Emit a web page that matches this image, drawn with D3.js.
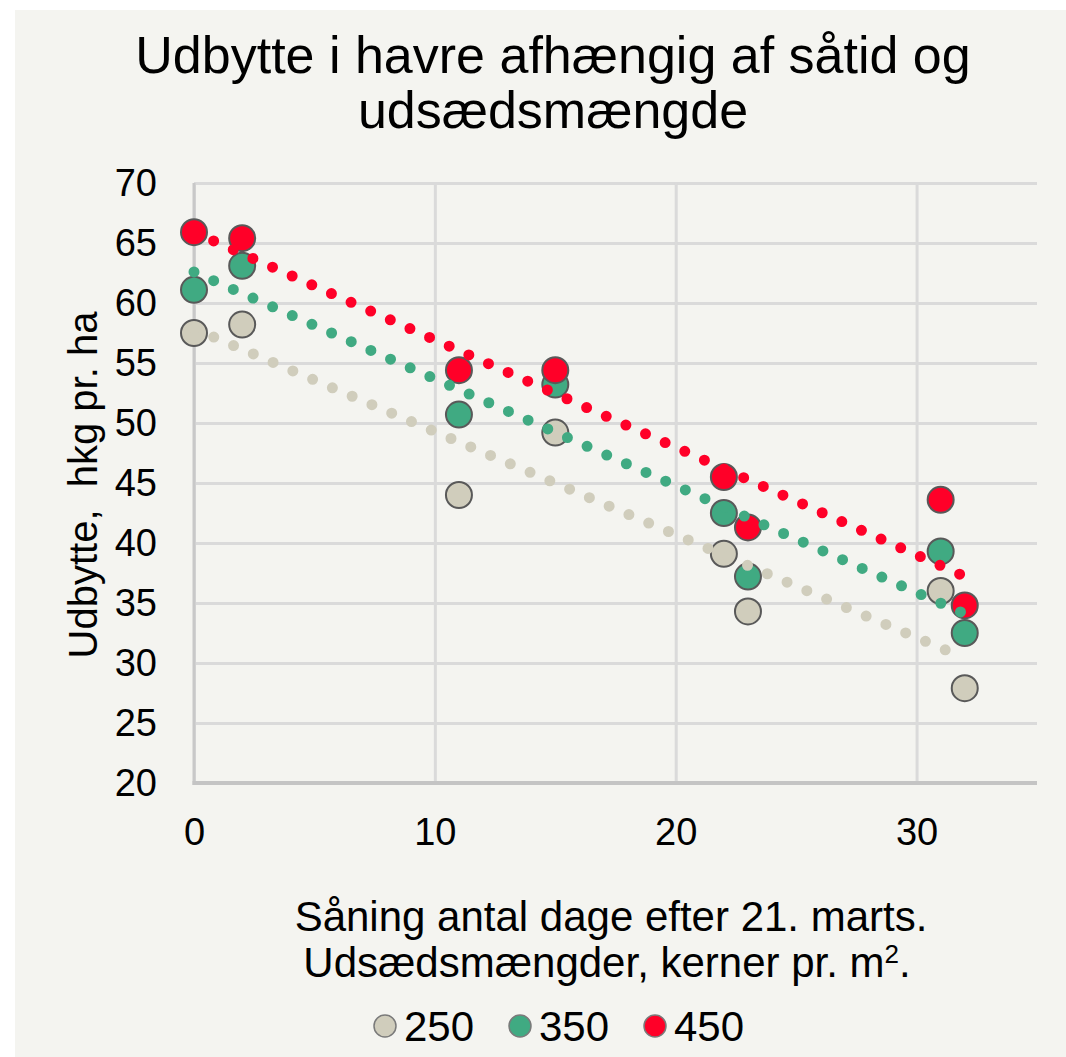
<!DOCTYPE html>
<html>
<head>
<meta charset="utf-8">
<script src="https://cdn.jsdelivr.net/npm/d3@7"></script>
<style>
  html, body { margin: 0; padding: 0; background: #ffffff; }
  svg { display: block; font-family: Arial, 'Liberation Sans', sans-serif; }
</style>
</head>
<body>
<svg id="chart" width="1066" height="1057"></svg>
<script>
// Sowing day (days after 21 March) and yield, hkg per ha, per seed rate.
var days = [0, 2, 11, 15, 22, 23, 31, 32];
var seedRates = ['250', '350', '450'];
var yield250 = [57.5, 58.2, 44.0, 49.2, 39.1, 34.3, 36.0, 27.9];
var yield350 = [61.1, 63.1, 50.7, 53.2, 42.5, 37.2, 39.3, 32.5];
var yield450 = [65.9, 65.4, 54.4, 54.4, 45.5, 41.3, 43.6, 34.8];
var xTicks = [0, 10, 20, 30];
var yTicks = [20, 25, 30, 35, 40, 45, 50, 55, 60, 65, 70];
var seriesColors = ['#d0cdbc', '#40aa82', '#ff0028'];

var series = [yield250, yield350, yield450].map(function (values, i) {
  return {
    id: seedRates[i],
    color: seriesColors[i],
    points: days.map(function (d, j) { return { x: d, y: values[j] }; })
  };
});

var svg = d3.select('#chart');
var plot = { left: 194, right: 1037, top: 183, bottom: 783 };

var x = d3.scaleLinear().domain([0, 35]).range([plot.left, plot.right]);
var y = d3.scaleLinear().domain([20, 70]).range([plot.bottom, plot.top]);

// panel background, white strip on top and left like the source
svg.append('rect')
  .attr('x', 15).attr('y', 10)
  .attr('width', 1066 - 15).attr('height', 1057 - 10)
  .attr('fill', '#f4f4f0');

svg.append('text')
  .attr('text-anchor', 'middle')
  .attr('font-size', 52)
  .attr('fill', '#000')
  .selectAll('tspan')
  .data(['Udbytte i havre afhængig af såtid og', 'udsædsmængde'])
  .enter()
  .append('tspan')
  .attr('x', 553)
  .attr('y', function (d, i) { return 73 + i * 55; })
  .text(function (d) { return d; });

// y grid + labels
var yAxis = svg.append('g')
  .attr('transform', 'translate(' + plot.left + ',0)')
  .call(d3.axisLeft(y).tickValues(yTicks).tickSize(-(plot.right - plot.left)).tickPadding(37));
yAxis.select('.domain').remove();
yAxis.selectAll('line').attr('stroke', '#dadada').attr('stroke-width', 3);
yAxis.selectAll('text').attr('font-size', 38).attr('font-family', null).attr('fill', '#000');

// x grid + labels
var xAxis = svg.append('g')
  .attr('transform', 'translate(0,' + plot.bottom + ')')
  .call(d3.axisBottom(x).tickValues(xTicks).tickSize(-(plot.bottom - plot.top)).tickPadding(35));
xAxis.select('.domain').remove();
xAxis.selectAll('line').attr('stroke', '#dadada').attr('stroke-width', 3);
xAxis.selectAll('text').attr('font-size', 38).attr('font-family', null).attr('fill', '#000');

// axis lines
svg.append('line')
  .attr('x1', plot.left).attr('x2', plot.left)
  .attr('y1', plot.top).attr('y2', plot.bottom + 2)
  .attr('stroke', '#c8c8c8').attr('stroke-width', 3);
svg.append('line')
  .attr('x1', plot.left - 1.5).attr('x2', plot.right)
  .attr('y1', plot.bottom).attr('y2', plot.bottom)
  .attr('stroke', '#c4c4c4').attr('stroke-width', 4);

// markers
var markerGroups = svg.append('g').selectAll('g')
  .data(series)
  .enter()
  .append('g');
markerGroups.selectAll('circle')
  .data(function (s) { return s.points.map(function (p) { return { x: p.x, y: p.y, color: s.color }; }); })
  .enter()
  .append('circle')
  .attr('cx', function (p) { return x(p.x); })
  .attr('cy', function (p) { return y(p.y); })
  .attr('r', 13)
  .attr('fill', function (p) { return p.color; })
  .attr('stroke', '#595959')
  .attr('stroke-width', 2);

// linear trendlines, dotted, on top of the markers
function fitLine(points) {
  var mx = d3.mean(points, function (p) { return p.x; });
  var my = d3.mean(points, function (p) { return p.y; });
  var sxy = d3.sum(points, function (p) { return (p.x - mx) * (p.y - my); });
  var sxx = d3.sum(points, function (p) { return (p.x - mx) * (p.x - mx); });
  var slope = sxy / sxx;
  return function (v) { return my + slope * (v - mx); };
}

var xExtent = d3.extent(days);
var trend = d3.line()
  .x(function (d) { return x(d[0]); })
  .y(function (d) { return y(d[1]); });

svg.append('g').selectAll('path')
  .data(series)
  .enter()
  .append('path')
  .attr('d', function (s) {
    var f = fitLine(s.points);
    return trend(xExtent.map(function (v) { return [v, f(v)]; }));
  })
  .attr('fill', 'none')
  .attr('stroke', function (s) { return s.color; })
  .attr('stroke-width', 11)
  .attr('stroke-linecap', 'round')
  .attr('stroke-dasharray', '0 21.5');

// x axis title
var xTitle = svg.append('text')
  .attr('text-anchor', 'middle')
  .attr('font-size', 42)
  .attr('fill', '#000');
xTitle.append('tspan')
  .attr('x', 611).attr('y', 931)
  .text('Såning antal dage efter 21. marts.');
var line2 = xTitle.append('tspan')
  .attr('x', 607).attr('y', 977)
  .text('Udsædsmængder, kerner pr. m');
line2.append('tspan')
  .attr('font-size', 26)
  .attr('dy', -14)
  .text('2');
line2.append('tspan')
  .attr('dy', 14)
  .text('.');

// y axis title
svg.append('text')
  .attr('transform', 'translate(97,485) rotate(-90)')
  .attr('text-anchor', 'middle')
  .attr('font-size', 40)
  .attr('fill', '#000')
  .attr('xml:space', 'preserve')
  .text('Udbytte,  hkg pr. ha');

// legend
var legendX = [385, 520, 655];
var legend = svg.append('g').selectAll('g')
  .data(series)
  .enter()
  .append('g')
  .attr('transform', function (s, i) { return 'translate(' + legendX[i] + ',1026)'; });
legend.append('circle')
  .attr('r', 11)
  .attr('fill', function (s) { return s.color; })
  .attr('stroke', '#7a7a7a')
  .attr('stroke-width', 1.5);
legend.append('text')
  .attr('x', 19)
  .attr('y', 15)
  .attr('font-size', 42)
  .attr('fill', '#000')
  .text(function (s) { return s.id; });
</script>
</body>
</html>
